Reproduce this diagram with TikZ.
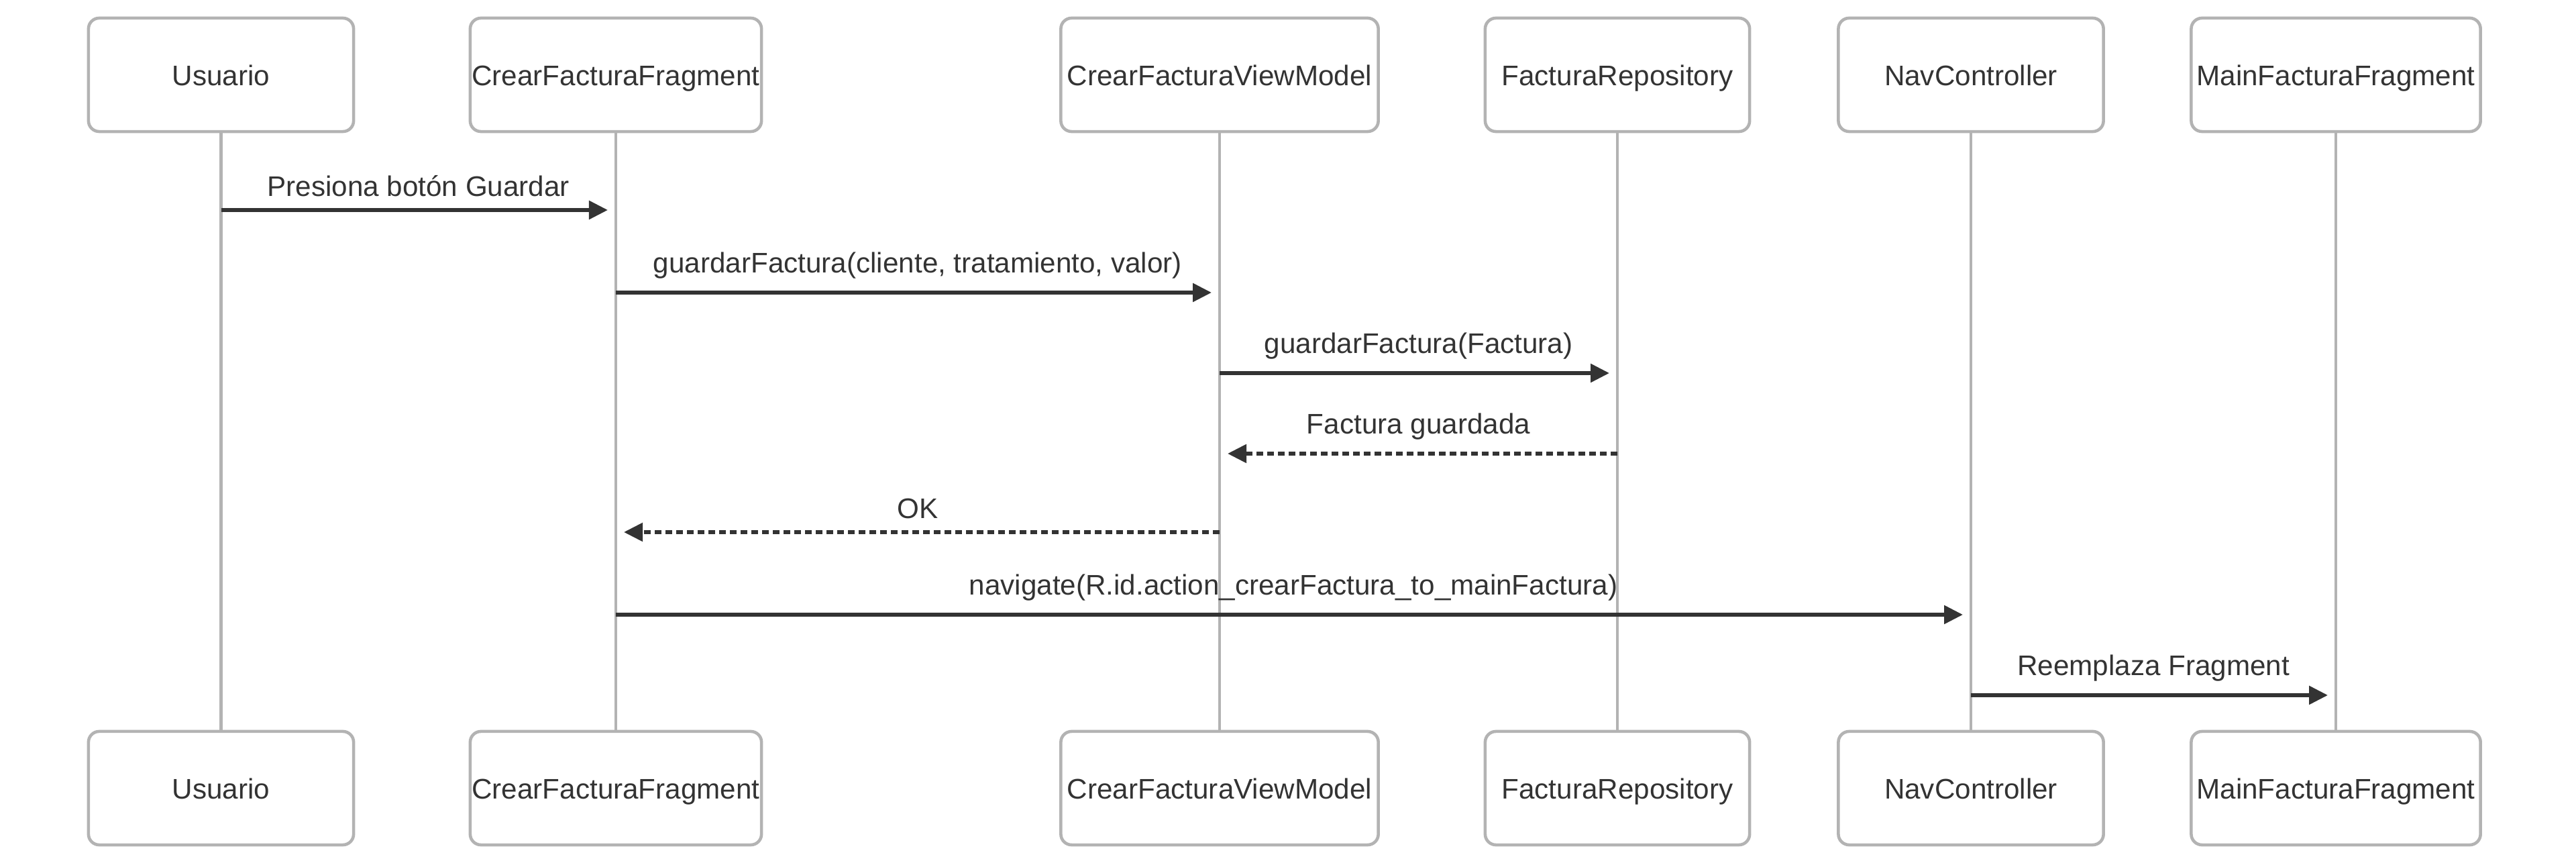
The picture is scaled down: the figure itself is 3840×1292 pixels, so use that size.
\documentclass[tikz,border=0pt]{standalone}
\usepackage{fontspec}
\setmainfont{Liberation Sans}
\usetikzlibrary{positioning, arrows.meta}
\definecolor{edge}{HTML}{B3B3B3}
\definecolor{ink}{HTML}{333333}

\begin{document}
\begin{tikzpicture}[
    x=0.01cm, y=-0.01cm,
    font=\fontsize{12}{14}\selectfont, text=ink,
    actor/.style={draw=edge, line width=1.3pt, fill=white, rectangle, rounded corners=0.16cm, minimum height=1.69cm, inner sep=0pt, text height=1.1em, text depth=0.2em},
    life/.style={draw=edge, line width=1.2pt},
    msg/.style={draw=ink, line width=1.6pt, -{Triangle[length=0.28cm, width=0.27cm]}, shorten >=0.12cm},
    reply/.style={msg, line width=1.5pt, dash pattern=on 0.1cm off 0.06cm},
    lbl/.style={midway, above, yshift=0.06cm}
]
    \useasboundingbox (0,0) rectangle (3840,1292);

    % participants, top row
    \node[actor, minimum width=3.95cm] (usr) at (329.5,111.5) {Usuario};
    \node[actor, minimum width=4.34cm] (crear) at (918,111.5) {CrearFacturaFragment};
    \node[actor, minimum width=4.73cm] (vm) at (1818,111.5) {CrearFacturaViewModel};
    \node[actor, minimum width=3.94cm] (repo) at (2411,111.5) {FacturaRepository};
    \node[actor, minimum width=3.95cm] (nav) at (2938,111.5) {NavController};
    \node[actor, minimum width=4.31cm] (main) at (3482,111.5) {MainFacturaFragment};

    % participants, bottom row
    \node[actor, minimum width=3.95cm] (usrB) at (329.5,1174.5) {Usuario};
    \node[actor, minimum width=4.34cm] (crearB) at (918,1174.5) {CrearFacturaFragment};
    \node[actor, minimum width=4.73cm] (vmB) at (1818,1174.5) {CrearFacturaViewModel};
    \node[actor, minimum width=3.94cm] (repoB) at (2411,1174.5) {FacturaRepository};
    \node[actor, minimum width=3.95cm] (navB) at (2938,1174.5) {NavController};
    \node[actor, minimum width=4.31cm] (mainB) at (3482,1174.5) {MainFacturaFragment};

    % lifelines
    \foreach \a in {usr, crear, vm, repo, nav, main}
        \draw[life] (\a.south) -- (\a B.north);

    % messages
    \draw[msg] (usr |- 0,313) -- node[lbl] {Presiona botón Guardar} (crear |- 0,313);
    \draw[msg] (crear |- 0,436) -- node[lbl] {guardarFactura(cliente, tratamiento, valor)} (vm |- 0,436);
    \draw[msg] (vm |- 0,556) -- node[lbl] {guardarFactura(Factura)} (repo |- 0,556);
    \draw[reply] (repo |- 0,676) -- node[lbl] {Factura guardada} (vm |- 0,676);
    \draw[reply] (vm |- 0,793) -- node[lbl] {OK} (crear |- 0,793);
    \draw[msg] (crear |- 0,916) -- node[lbl] {navigate(R.id.action\_crearFactura\_to\_mainFactura)} (nav |- 0,916);
    \draw[msg] (nav |- 0,1036) -- node[lbl] {Reemplaza Fragment} (main |- 0,1036);
\end{tikzpicture}
\end{document}
